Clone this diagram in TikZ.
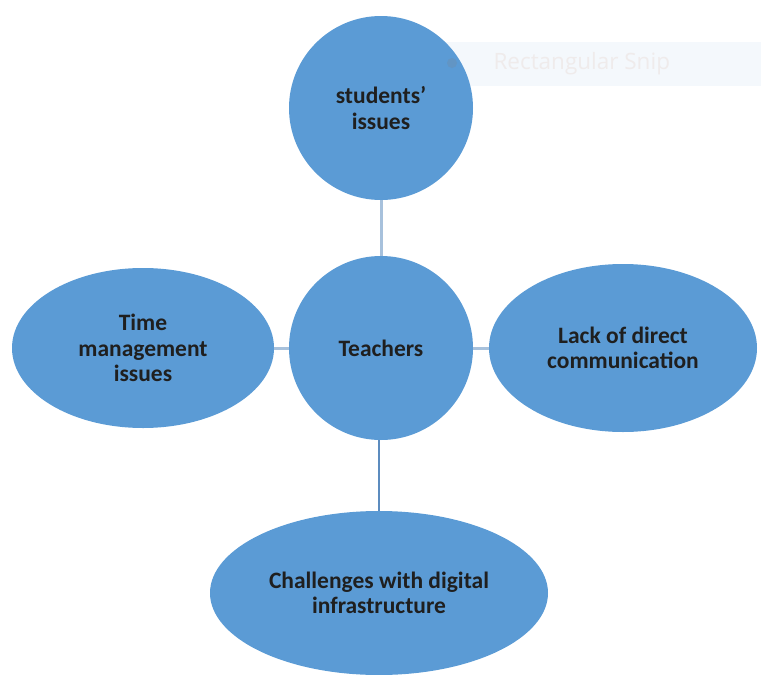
\documentclass[tikz,border=0pt]{standalone}
\usepackage{fontspec}
\setmainfont{Carlito}
\newfontfamily\snipfont{Open Sans}
\usepackage{tikz}
\usetikzlibrary{shapes.geometric}
\usetikzlibrary{positioning}
\definecolor{bubblefill}{HTML}{5B9BD5}
\definecolor{linkpale}{HTML}{A7C1DC}
\definecolor{linkdark}{HTML}{5C8CBF}
\definecolor{snipback}{HTML}{F4F8FC}
\definecolor{sniptext}{HTML}{EFEBEB}
\tikzset{bubble/.style = {fill=bubblefill, draw=none, align=center, text=black!88,
                          font=\bfseries\fontsize{23.5}{25.5}\selectfont}}
\tikzset{round/.style = {bubble, circle, minimum size = 184, inner sep = 0}}
\tikzset{oval/.style = {bubble, ellipse, inner sep = 0}}
\tikzset{link/.style = {draw=linkpale, line width = 3}}

\begin{document}
\begin{tikzpicture}[x=1pt, y=-1pt]
      \useasboundingbox (0, 0) rectangle (761, 675);

      % the snip label behind the top bubble
      \fill [snipback] (433, 42) rectangle (761, 86);

      \node [round] (students) at (381, 108) {students’\\issues};
      \node [round] (teachers) at (381, 348) {Teachers};
      \node [oval, minimum width = 262, minimum height = 160] (time) at (143, 348)
            {Time\\management\\issues};
      \node [oval, minimum width = 268, minimum height = 168] (lack) at (623, 348)
            {Lack of direct\\communication};
      \node [oval, minimum width = 338, minimum height = 164] (digital) at (379, 593)
            {Challenges with digital\\infrastructure};

      \draw [link] (students) -- (teachers);
      \draw [link] (time) -- (teachers);
      \draw [link] (teachers) -- (lack);
      \draw [link, draw=linkdark, line width = 2.5] (digital.north |- teachers.south) -- (digital.north);

      \node [circle, fill=bubblefill!80!gray, inner sep = 0, minimum size = 10] (dot) at (452, 63) {};
      \node [anchor = west, text=sniptext, font=\snipfont\fontsize{22.5}{24}\selectfont]
            (snip) at (490, 64) {Rectangular Snip};
    \end{tikzpicture}
\end{document}
